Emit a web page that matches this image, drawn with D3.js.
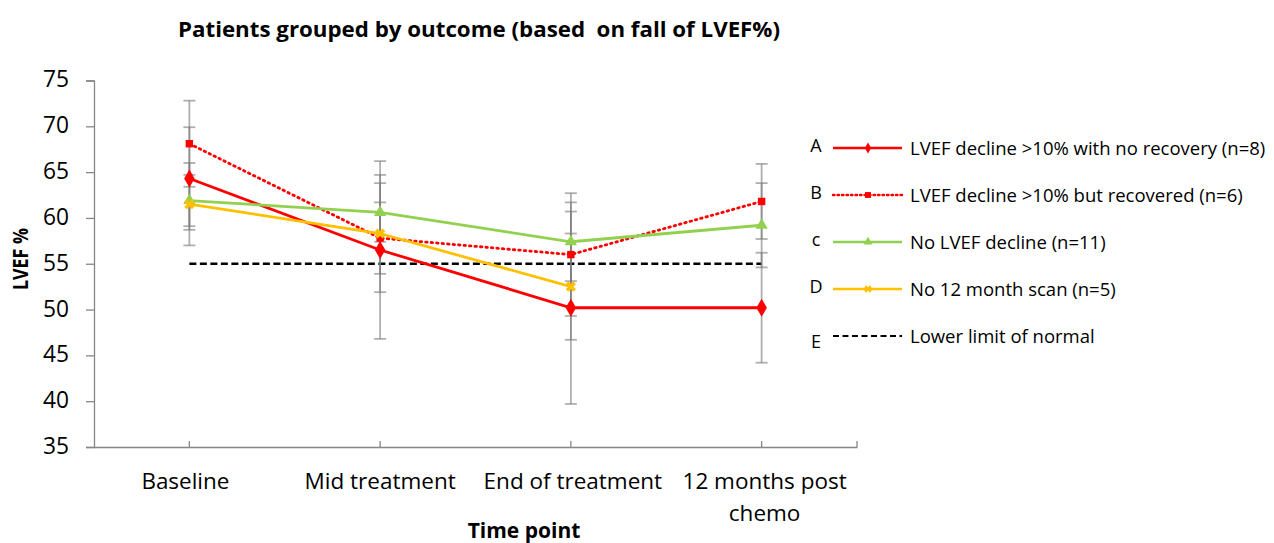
<!DOCTYPE html>
<html>
<head>
<meta charset="utf-8">
<script src="https://cdn.jsdelivr.net/npm/d3@7"></script>
<style>
  html, body { margin: 0; padding: 0; background: #fff; }
  svg { display: block; font-family: "Open Sans", Lato, sans-serif; }
</style>
</head>
<body>
<svg id="chart" width="1274" height="543"></svg>
<script>
// ---- data ----
const categories = ["Baseline", "Mid treatment", "End of treatment", "12 months post chemo"];
const seriesA = [64.3, 56.5, 50.2, 50.2];
const errorA  = [5.6, 9.7, 10.5, 6.0];
const seriesB = [68.1, 57.8, 56.0, 61.8];
const errorB  = [4.7, 3.9, 6.7, 4.1];
const seriesC = [61.9, 60.6, 57.4, 59.2];
const errorC  = [2.8, 3.2, 4.3, 4.6];
const seriesD = [61.5, 58.3, 52.5, null];
const errorD  = [4.5, 6.4, 5.8, null];
const lowerLimit = 55;
const yTicks = [35, 40, 45, 50, 55, 60, 65, 70, 75];
const legendLetters = ["A", "B", "c", "D", "E"];
const legendLabels = [
  "LVEF decline >10% with no recovery (n=8)",
  "LVEF decline >10% but recovered (n=6)",
  "No LVEF decline (n=11)",
  "No 12 month scan (n=5)",
  "Lower limit of normal"
];
const title = "Patients grouped by outcome (based  on fall of LVEF%)";
const xTitle = "Time point";
const yTitle = "LVEF %";

const series = [
  { values: seriesA, errors: errorA, color: "#FF0000", dash: null, marker: "diamond" },
  { values: seriesB, errors: errorB, color: "#FF0000", dash: "1.5,4", marker: "square" },
  { values: seriesC, errors: errorC, color: "#92D050", dash: null, marker: "triangle" },
  { values: seriesD, errors: errorD, color: "#FFC000", dash: null, marker: "star" }
];

// ---- layout ----
const svg = d3.select("#chart");
const plotL = 94, plotR = 857, plotT = 80.5, plotB = 447;

const x = d3.scaleBand().domain(categories).range([plotL, plotR]).padding(0);
const cx = c => x(c) + x.bandwidth() / 2;
const y = d3.scaleLinear().domain([35, 75]).range([plotB, plotT]);

const axisColor = "#868686";

// squeeze text to a measured width (only when wider)
function fit(sel, w) {
  const n = sel.node();
  if (n.getComputedTextLength() > w) {
    sel.attr("textLength", w).attr("lengthAdjust", "spacingAndGlyphs");
  }
  return sel;
}

// title
svg.append("text").attr("x", 479).attr("y", 37).attr("text-anchor", "middle")
  .attr("font-weight", "bold").attr("font-size", 21.5).attr("fill", "#000")
  .attr("xml:space", "preserve").style("white-space", "pre")
  .attr("textLength", 602).attr("lengthAdjust", "spacingAndGlyphs")
  .text(title);

// y axis
const yAxis = d3.axisLeft(y).tickValues(yTicks).tickSize(8).tickPadding(17);
const gy = svg.append("g").attr("transform", `translate(${plotL},0)`).call(yAxis);
gy.select(".domain").attr("stroke", axisColor).attr("stroke-width", 1.3);
gy.selectAll(".tick line").attr("stroke", axisColor).attr("stroke-width", 1.3);
gy.selectAll(".tick text").attr("font-size", 23).attr("fill", "#000")
  .attr("font-family", "'Open Sans', sans-serif").attr("dy", "0.28em");
gy.selectAll(".tick text").each(function () { fit(d3.select(this), 26); });

// x axis
const xAxis = d3.axisBottom(x).tickSize(0).tickFormat("");
const gx = svg.append("g").attr("transform", `translate(0,${plotB})`).call(xAxis);
gx.select(".domain").attr("stroke", axisColor).attr("stroke-width", 1.3);
const xTickPos = categories.map(cx).concat([plotR]);
svg.append("g").selectAll("line").data(xTickPos).join("line")
  .attr("x1", d => d).attr("x2", d => d)
  .attr("y1", plotB - 6).attr("y2", plotB)
  .attr("stroke", axisColor).attr("stroke-width", 1.3);

// x labels
const xLabelLines = [["Baseline"], ["Mid treatment"], ["End of treatment"], ["12 months post", "chemo"]];
const xLabelWidths = [[88], [158], [184], [169, 74]];
const xLabelShift = [-4, 0, 2, 3];
categories.forEach((c, i) => {
  xLabelLines[i].forEach((ln, j) => {
    fit(svg.append("text").attr("x", cx(c) + xLabelShift[i]).attr("y", 489 + j * 32)
      .attr("text-anchor", "middle").attr("font-size", 22.5).attr("fill", "#000")
      .text(ln), xLabelWidths[i][j]);
  });
});

// axis titles
fit(svg.append("text").attr("x", 524).attr("y", 538).attr("text-anchor", "middle")
  .attr("font-weight", "bold").attr("font-size", 21).text(xTitle), 118);
fit(svg.append("text").attr("transform", "translate(28,259) rotate(-90)")
  .attr("text-anchor", "middle").attr("font-weight", "bold").attr("font-size", 21).text(yTitle), 62);

// lower limit line
svg.append("line")
  .attr("x1", cx(categories[0])).attr("x2", cx(categories[3]))
  .attr("y1", y(lowerLimit)).attr("y2", y(lowerLimit))
  .attr("stroke", "#000").attr("stroke-width", 2.4).attr("stroke-dasharray", "7,3.5");

// error bars
const eb = svg.append("g");
series.forEach(s => {
  categories.forEach((c, i) => {
    if (s.values[i] == null) return;
    const v = s.values[i], e = s.errors[i];
    const g = eb.append("g").attr("stroke", "#7a7a7a").attr("stroke-opacity", 0.6);
    g.append("line").attr("x1", cx(c)).attr("x2", cx(c))
      .attr("y1", y(v + e)).attr("y2", y(v - e)).attr("stroke-width", 1.8);
    [v + e, v - e].forEach(w => {
      g.append("line").attr("x1", cx(c) - 6).attr("x2", cx(c) + 6)
        .attr("y1", y(w)).attr("y2", y(w)).attr("stroke-width", 1.8);
    });
  });
});

function symbolType(m) {
  return m === "diamond" ? d3.symbolDiamond : m === "square" ? d3.symbolSquare :
         m === "triangle" ? d3.symbolTriangle : d3.symbolCross;
}
const markerSize = { diamond: 95, square: 55, triangle: 65, star: 65 };

// lines
const line = d3.line().defined(d => d.v != null).x(d => cx(d.c)).y(d => y(d.v));
series.forEach(s => {
  const pts = categories.map((c, i) => ({ c, v: s.values[i] }));
  svg.append("path").datum(pts).attr("d", line)
    .attr("fill", "none").attr("stroke", s.color).attr("stroke-width", 2.8)
    .attr("stroke-dasharray", s.dash).attr("stroke-linecap", s.dash ? "round" : "butt");
  svg.append("g").selectAll("path").data(pts.filter(p => p.v != null)).join("path")
    .attr("d", d3.symbol().type(symbolType(s.marker)).size(markerSize[s.marker])())
    .attr("transform", p => `translate(${cx(p.c)},${y(p.v)})` + (s.marker === "star" ? " rotate(45)" : ""))
    .attr("fill", s.color);
});

// legend
const legendY = [148, 195, 242, 289, 336];
const legendW = [362, 337, 198, 207, 185];
const lg = svg.append("g");
legendLabels.forEach((lab, i) => {
  const yy = legendY[i];
  lg.append("text").attr("x", 816).attr("y", yy + 4 + (i === 4 ? 8 : 0)).attr("text-anchor", "middle")
    .attr("font-size", 18).attr("fill", "#000").text(legendLetters[i]);
  if (i < 4) {
    const s = series[i];
    lg.append("line").attr("x1", 833).attr("x2", 902).attr("y1", yy).attr("y2", yy)
      .attr("stroke", s.color).attr("stroke-width", 2.4)
      .attr("stroke-dasharray", s.dash ? "1.5,3" : null).attr("stroke-linecap", s.dash ? "round" : "butt");
    lg.append("path").attr("d", d3.symbol().type(symbolType(s.marker)).size(35)())
      .attr("transform", `translate(868,${yy})` + (s.marker === "star" ? " rotate(45)" : ""))
      .attr("fill", s.color);
  } else {
    lg.append("line").attr("x1", 833).attr("x2", 902).attr("y1", yy).attr("y2", yy)
      .attr("stroke", "#000").attr("stroke-width", 2.2).attr("stroke-dasharray", "6,3.5");
  }
  fit(lg.append("text").attr("x", 910).attr("y", yy + 7).attr("font-size", 18.5)
    .attr("fill", "#000").text(lab), legendW[i]);
});
</script>
</body>
</html>
